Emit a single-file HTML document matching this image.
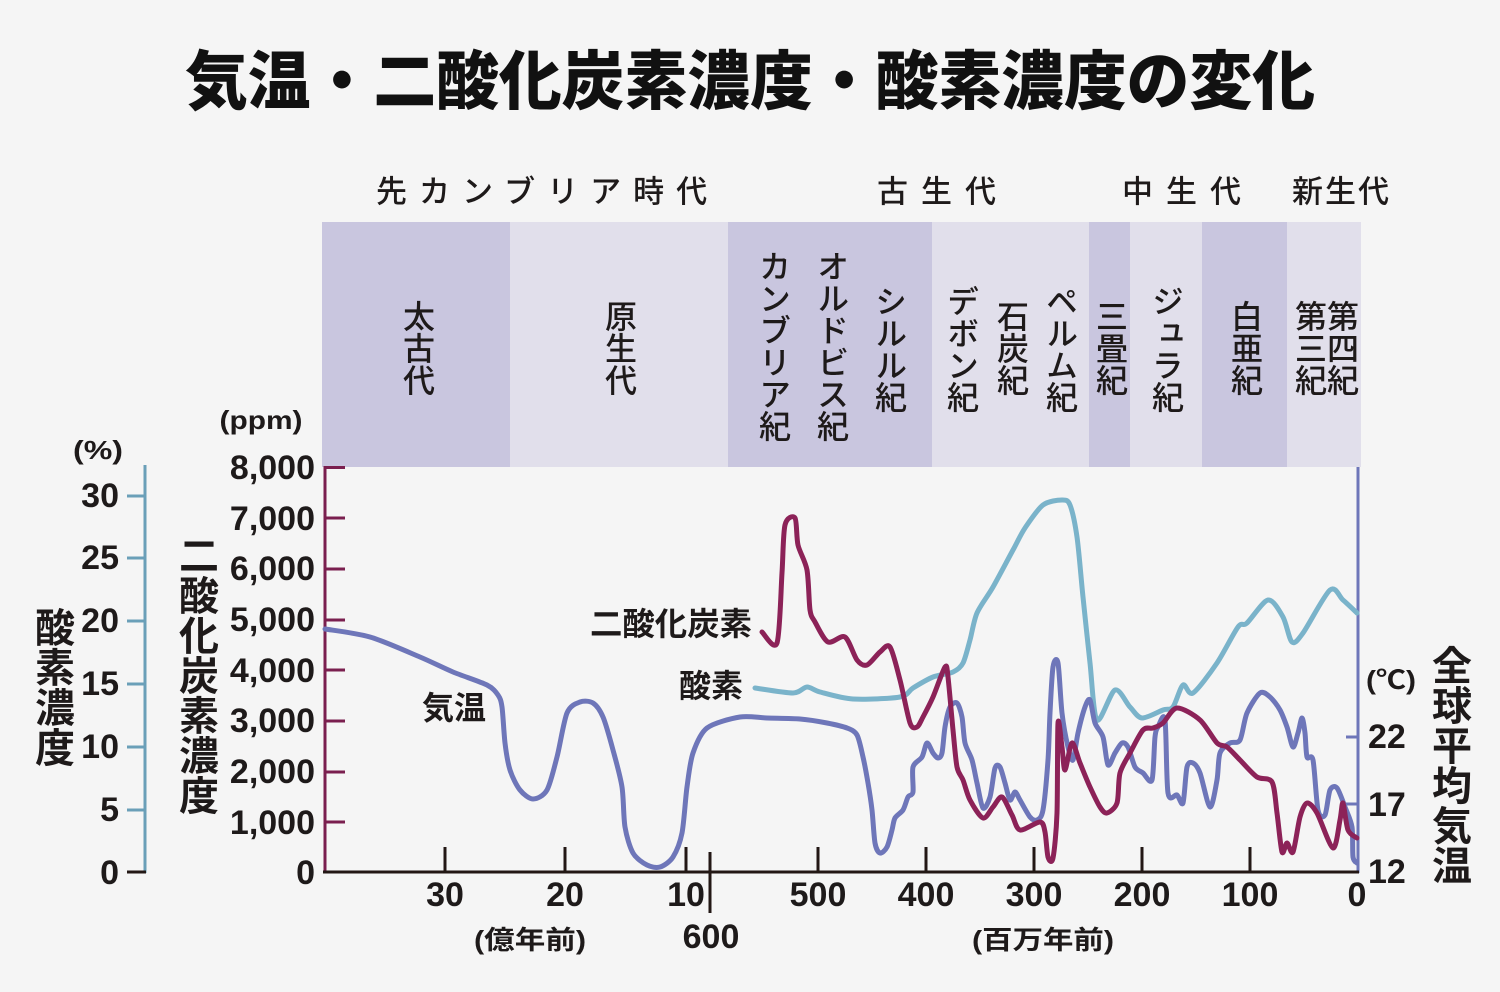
<!DOCTYPE html>
<html><head><meta charset="utf-8">
<style>
html,body{margin:0;padding:0;background:#f5f5f5;}
#wrap{position:relative;width:1500px;height:992px;overflow:hidden;background:#f5f5f5;font-family:"Liberation Sans","Noto Sans CJK JP",sans-serif;color:#1e1a1a;}
svg{position:absolute;left:0;top:0;}
.v{position:absolute;writing-mode:vertical-rl;line-height:1;white-space:nowrap;font-family:"Liberation Sans","Noto Sans CJK JP",sans-serif;color:#1e1a1a;}
</style></head><body><div id="wrap">
<svg id="chart" width="1500" height="992" viewBox="0 0 1500 992" xmlns="http://www.w3.org/2000/svg" font-family="Liberation Sans, Noto Sans CJK JP, sans-serif">
<!-- bands -->
<rect x="322" y="222" width="188" height="245" fill="#c9c6df"/>
<rect x="510" y="222" width="218" height="245" fill="#e1dfeb"/>
<rect x="728" y="222" width="204" height="245" fill="#c9c6df"/>
<rect x="932" y="222" width="157" height="245" fill="#e1dfeb"/>
<rect x="1089" y="222" width="41" height="245" fill="#c9c6df"/>
<rect x="1130" y="222" width="72" height="245" fill="#e1dfeb"/>
<rect x="1202" y="222" width="85" height="245" fill="#c9c6df"/>
<rect x="1287" y="222" width="74" height="245" fill="#e1dfeb"/>

<!-- title -->
<text x="750" y="82" text-anchor="middle" dominant-baseline="central" font-size="64" font-weight="900" fill="#111" textLength="1130" lengthAdjust="spacingAndGlyphs">気温・二酸化炭素濃度・酸素濃度の変化</text>

<!-- era labels -->
<g font-size="31" font-weight="500" fill="#1e1a1a" dominant-baseline="central">
<text x="376" y="192" letter-spacing="12">先カンブリア時代</text>
<text x="877" y="192" letter-spacing="13">古生代</text>
<text x="1122" y="192" letter-spacing="13">中生代</text>
<text x="1292" y="192" letter-spacing="2">新生代</text>
</g>

<!-- O2 axis -->
<line x1="145" y1="465" x2="145" y2="873" stroke="#6a9fb8" stroke-width="3"/>
<g stroke="#6a9fb8" stroke-width="3">
<line x1="127" y1="496" x2="145" y2="496"/>
<line x1="127" y1="558" x2="145" y2="558"/>
<line x1="127" y1="621" x2="145" y2="621"/>
<line x1="127" y1="684" x2="145" y2="684"/>
<line x1="127" y1="747" x2="145" y2="747"/>
<line x1="127" y1="810" x2="145" y2="810"/>
</g>
<line x1="127" y1="872" x2="146" y2="872" stroke="#231815" stroke-width="3"/>
<g font-size="34" font-weight="700" fill="#1e1a1a" text-anchor="end" dominant-baseline="central">
<text x="119" y="496">30</text>
<text x="119" y="558">25</text>
<text x="119" y="621">20</text>
<text x="119" y="684">15</text>
<text x="119" y="747">10</text>
<text x="119" y="810">5</text>
<text x="119" y="873">0</text>
</g>
<text x="98" y="450" text-anchor="middle" dominant-baseline="central" font-size="26" font-weight="700" fill="#1e1a1a" textLength="50" lengthAdjust="spacingAndGlyphs">(%)</text>

<!-- CO2 axis -->
<line x1="325" y1="466" x2="325" y2="873" stroke="#7a1f4f" stroke-width="3"/>
<g stroke="#7a1f4f" stroke-width="3">
<line x1="325" y1="467.5" x2="345" y2="467.5"/>
<line x1="325" y1="518" x2="345" y2="518"/>
<line x1="325" y1="569" x2="345" y2="569"/>
<line x1="325" y1="620" x2="345" y2="620"/>
<line x1="325" y1="670" x2="345" y2="670"/>
<line x1="325" y1="721" x2="345" y2="721"/>
<line x1="325" y1="772" x2="345" y2="772"/>
<line x1="325" y1="822" x2="345" y2="822"/>
</g>
<g font-size="34" font-weight="700" fill="#1e1a1a" text-anchor="end" dominant-baseline="central">
<text x="315" y="468">8,000</text>
<text x="315" y="519">7,000</text>
<text x="315" y="569">6,000</text>
<text x="315" y="620">5,000</text>
<text x="315" y="671">4,000</text>
<text x="315" y="721">3,000</text>
<text x="315" y="772">2,000</text>
<text x="315" y="823">1,000</text>
<text x="315" y="873">0</text>
</g>
<text x="261" y="420" text-anchor="middle" dominant-baseline="central" font-size="26" font-weight="700" fill="#1e1a1a" textLength="83" lengthAdjust="spacingAndGlyphs">(ppm)</text>

<!-- right axis -->
<line x1="1358" y1="467" x2="1358" y2="873" stroke="#6e76b9" stroke-width="3"/>
<g stroke="#6e76b9" stroke-width="3">
<line x1="1346" y1="737" x2="1358" y2="737"/>
<line x1="1346" y1="804" x2="1358" y2="804"/>
</g>
<g font-size="34" font-weight="700" fill="#1e1a1a" dominant-baseline="central">
<text x="1368" y="737">22</text>
<text x="1368" y="805">17</text>
<text x="1368" y="872">12</text>
</g>
<text x="1391" y="680" text-anchor="middle" dominant-baseline="central" font-size="26" font-weight="700" fill="#1e1a1a" textLength="50" lengthAdjust="spacingAndGlyphs">(℃)</text>

<!-- curves -->
<g id="curves" fill="none" stroke-width="5" stroke-linejoin="round" stroke-linecap="round">
<polyline stroke="#7ab3ca" points="755,688 793,693 807,687 820,692 853,699 900,697 913,688 933,677 953,672 963,663 970,640 977,613 993,587 1013,550 1025,528 1043,505 1062,500 1070,505 1077,537 1083,597 1090,663 1097,720 1115,690 1130,707 1142,718 1163,710 1173,707 1183,685 1193,693 1217,663 1238,627 1247,623 1268,600 1283,617 1292,642 1303,633 1330,590 1343,600 1357,613"/>
<polyline stroke="#6e76b9" points="325,629 370,637 420,657 453,672 487,685 498,695 502,707 505,743 510,770 520,790 533,799 547,790 557,757 567,713 580,702 593,703 603,717 613,750 622,787 625,827 633,853 647,865 660,867 673,857 682,833 687,787 693,753 707,728 740,717 767,718 800,719 827,723 847,728 857,735 863,757 868,783 872,810 875,843 880,853 887,847 892,830 895,818 903,810 908,797 913,792 913,767 922,757 927,743 933,753 938,758 942,753 945,727 950,707 957,703 962,717 965,743 972,760 977,783 983,808 990,797 995,768 1000,767 1005,783 1010,800 1015,792 1020,800 1030,817 1037,820 1043,810 1048,760 1050,713 1053,667 1058,663 1062,713 1068,747 1073,760 1078,733 1085,707 1090,700 1095,723 1103,737 1108,765 1115,753 1122,743 1128,747 1135,767 1143,773 1152,780 1155,737 1158,727 1165,720 1168,793 1177,795 1183,803 1187,767 1193,763 1200,773 1210,807 1217,780 1220,753 1230,743 1240,740 1247,713 1260,693 1270,697 1280,710 1287,727 1293,747 1298,733 1302,718 1305,733 1307,757 1313,760 1318,810 1325,815 1330,790 1337,788 1345,807 1352,827 1353,857 1357,863"/>
<polyline stroke="#8c2258" points="762,632 777,643 782,573 785,525 795,518 798,545 807,570 810,610 815,622 828,642 845,637 857,660 867,665 880,652 890,647 900,680 910,723 917,727 923,717 933,697 945,667 948,677 953,730 957,767 963,780 970,800 983,818 993,807 1002,797 1012,815 1020,830 1040,822 1045,832 1048,857 1053,858 1057,813 1058,723 1062,747 1065,770 1072,743 1080,763 1090,787 1100,807 1107,813 1117,803 1120,773 1130,753 1143,730 1153,728 1163,723 1177,708 1200,720 1217,743 1227,747 1240,760 1257,777 1272,782 1277,813 1282,852 1287,843 1293,852 1300,817 1307,803 1317,813 1333,848 1340,820 1343,803 1348,830 1357,838"/>
</g>

<!-- bottom axis -->
<line x1="323" y1="872" x2="1359" y2="872" stroke="#231815" stroke-width="3"/>
<g stroke="#231815" stroke-width="3">
<line x1="445" y1="847" x2="445" y2="872"/>
<line x1="565" y1="847" x2="565" y2="872"/>
<line x1="686" y1="847" x2="686" y2="872"/>
<line x1="710" y1="852" x2="710" y2="913"/>
<line x1="818" y1="847" x2="818" y2="872"/>
<line x1="926" y1="847" x2="926" y2="872"/>
<line x1="1034" y1="847" x2="1034" y2="872"/>
<line x1="1142" y1="847" x2="1142" y2="872"/>
<line x1="1250" y1="847" x2="1250" y2="872"/>
</g>
<g font-size="34" font-weight="700" fill="#1e1a1a" text-anchor="middle" dominant-baseline="central">
<text x="445" y="895">30</text>
<text x="565" y="895">20</text>
<text x="686" y="895">10</text>
<text x="711" y="937">600</text>
<text x="818" y="895">500</text>
<text x="926" y="895">400</text>
<text x="1034" y="895">300</text>
<text x="1142" y="895">200</text>
<text x="1250" y="895">100</text>
<text x="1357" y="895">0</text>
</g>
<g font-size="26" font-weight="700" fill="#1e1a1a" text-anchor="middle" dominant-baseline="central">
<text x="530" y="940" textLength="112" lengthAdjust="spacingAndGlyphs">(億年前)</text>
<text x="1043" y="940" textLength="142" lengthAdjust="spacingAndGlyphs">(百万年前)</text>
</g>

<!-- series labels -->
<g font-size="32" font-weight="700" fill="#1e1a1a" dominant-baseline="central">
<text x="590" y="624" textLength="162" lengthAdjust="spacingAndGlyphs">二酸化炭素</text>
<text x="679" y="686" textLength="64" lengthAdjust="spacingAndGlyphs">酸素</text>
<text x="422" y="708" textLength="64" lengthAdjust="spacingAndGlyphs">気温</text>
</g>
</svg>

<!-- vertical labels in bands -->
<div class="v" style="left:401px;top:300px;font-size:32px;font-weight:500;">太古代</div>
<div class="v" style="left:603px;top:300px;font-size:32px;font-weight:500;">原生代</div>
<div class="v" style="left:757px;top:250px;font-size:32px;font-weight:500;">カンブリア紀</div>
<div class="v" style="left:815px;top:250px;font-size:32px;font-weight:500;">オルドビス紀</div>
<div class="v" style="left:873px;top:285px;font-size:32px;font-weight:500;">シルル紀</div>
<div class="v" style="left:945px;top:285px;font-size:32px;font-weight:500;">デボン紀</div>
<div class="v" style="left:995px;top:300px;font-size:32px;font-weight:500;">石炭紀</div>
<div class="v" style="left:1044px;top:285px;font-size:32px;font-weight:500;">ペルム紀</div>
<div class="v" style="left:1094px;top:300px;font-size:32px;font-weight:500;">三畳紀</div>
<div class="v" style="left:1150px;top:285px;font-size:32px;font-weight:500;">ジュラ紀</div>
<div class="v" style="left:1229px;top:300px;font-size:32px;font-weight:500;">白亜紀</div>
<div class="v" style="left:1293px;top:300px;font-size:32px;font-weight:500;">第三紀</div>
<div class="v" style="left:1325px;top:300px;font-size:32px;font-weight:500;">第四紀</div>

<!-- axis titles -->
<div class="v" style="left:31px;top:607px;font-size:40px;font-weight:700;">酸素濃度</div>
<div class="v" style="left:175px;top:535px;font-size:40px;font-weight:700;">二酸化炭素濃度</div>
<div class="v" style="left:1428px;top:645px;font-size:40px;font-weight:700;">全球平均気温</div>
</div>
<script>
(function(){
  var ns="http://www.w3.org/2000/svg";
  var g=document.getElementById("curves");
  if(!g) return;
  var pls=g.querySelectorAll("polyline");
  for(var i=0;i<pls.length;i++){
    var pl=pls[i];
    var pts=pl.getAttribute("points").trim().split(/\s+/).map(function(s){var a=s.split(",");return [parseFloat(a[0]),parseFloat(a[1])];});
    var k=1/7;
    var d="M"+pts[0][0]+","+pts[0][1];
    for(var j=0;j<pts.length-1;j++){
      var p0=pts[j>0?j-1:j],p1=pts[j],p2=pts[j+1],p3=pts[j+2<pts.length?j+2:j+1];
      var c1x=p1[0]+(p2[0]-p0[0])*k,c1y=p1[1]+(p2[1]-p0[1])*k;
      var c2x=p2[0]-(p3[0]-p1[0])*k,c2y=p2[1]-(p3[1]-p1[1])*k;
      d+=" C"+c1x.toFixed(1)+","+c1y.toFixed(1)+" "+c2x.toFixed(1)+","+c2y.toFixed(1)+" "+p2[0]+","+p2[1];
    }
    var p=document.createElementNS(ns,"path");
    p.setAttribute("d",d);
    p.setAttribute("stroke",pl.getAttribute("stroke"));
    g.replaceChild(p,pl);
  }
})();
</script>
</body></html>
